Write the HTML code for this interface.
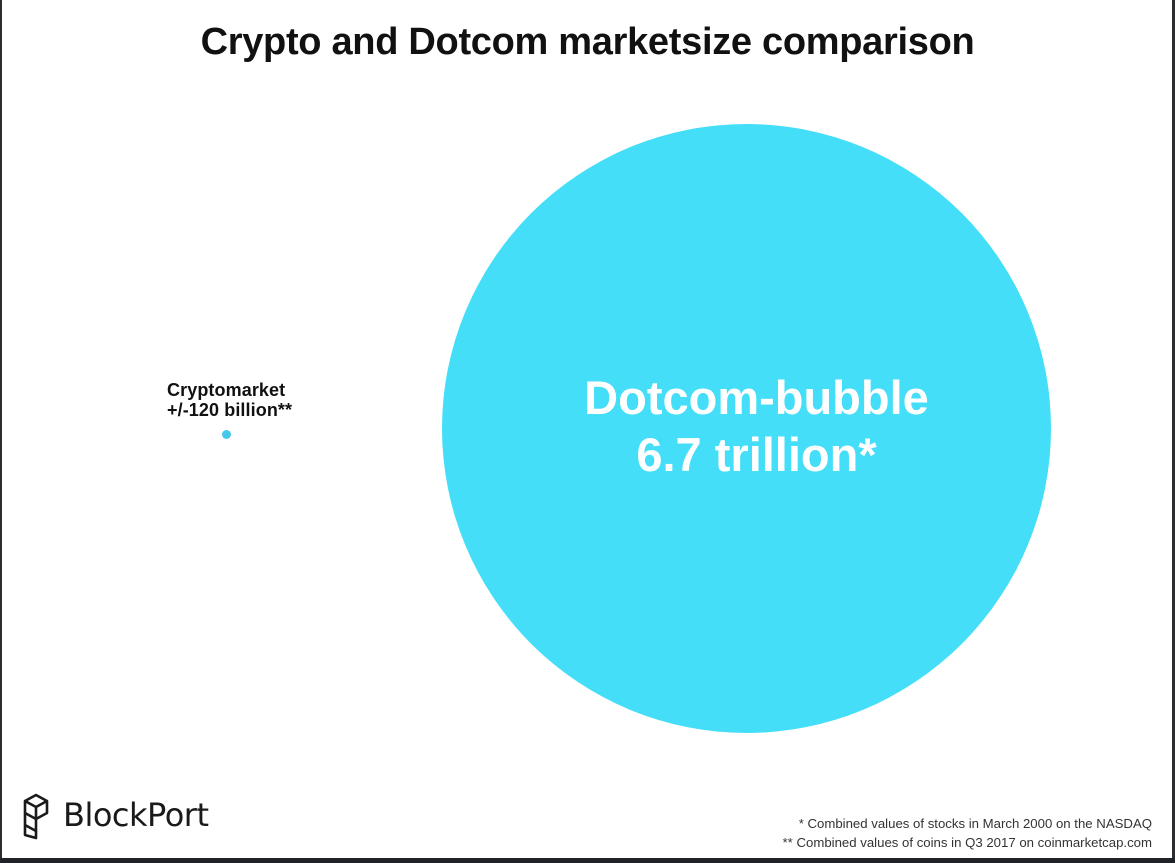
<!DOCTYPE html>
<html><head><meta charset="utf-8"><style>
html,body{margin:0;padding:0;}
body{width:1175px;height:863px;position:relative;overflow:hidden;background:#fff;font-family:"Liberation Sans",Arial,sans-serif;}
.bl{position:absolute;left:0;top:0;width:2px;height:863px;background:#2a2e33;}
.br{position:absolute;right:0;top:0;width:3px;height:863px;background:#2a2e33;}
.bb{position:absolute;left:0;bottom:0;width:1175px;height:5px;background:#1f2328;}
.t{position:absolute;left:0;width:1175px;top:21px;text-align:center;font-weight:bold;font-size:38px;color:#111;letter-spacing:-0.3px;}
.circ{position:absolute;left:442px;top:124px;width:609px;height:609px;border-radius:50%;background:#44def8;}
.ct{position:absolute;left:452px;width:609px;top:369px;text-align:center;color:#fff;font-weight:bold;font-size:47px;line-height:57px;}
.dot{position:absolute;left:222px;top:430px;width:9px;height:9px;border-radius:50%;background:#44c8ea;}
.lab{position:absolute;left:167px;top:380px;font-weight:bold;font-size:18px;line-height:20px;color:#111;letter-spacing:0.1px;}
.logo{position:absolute;left:63px;top:796px;font-size:32px;color:#1a1a1a;font-family:"DejaVu Sans","Liberation Sans",sans-serif;letter-spacing:-0.5px;}
.fn{position:absolute;right:23px;top:814px;text-align:right;font-size:13.2px;line-height:19px;color:#333;}
</style></head><body>
<div class="t">Crypto and Dotcom marketsize comparison</div>
<div class="circ"></div>
<div class="ct">Dotcom-bubble<br>6.7 trillion*</div>
<div class="lab">Cryptomarket<br>+/-120 billion**</div>
<div class="dot"></div>
<svg style="position:absolute;left:22px;top:792px" width="30" height="48" viewBox="0 0 30 48" fill="none" stroke="#1a1a1a" stroke-width="2.6" stroke-linejoin="round">
<path d="M14 3 L25 9 L25 21 L14 27 L3 21 L3 9 Z"/>
<path d="M3 9 L14 15 L25 9 M14 15 L14 27"/>
<path d="M3 21 L3 33 L14 39 L14 27"/>
<path d="M3 33 L3 43 L14 46 L14 39"/>
</svg>
<div class="logo">BlockPort</div>
<div class="fn">* Combined values of stocks in March 2000 on the NASDAQ<br>** Combined values of coins in Q3 2017 on coinmarketcap.com</div>
<div class="bl"></div><div class="br"></div><div class="bb"></div>
</body></html>
